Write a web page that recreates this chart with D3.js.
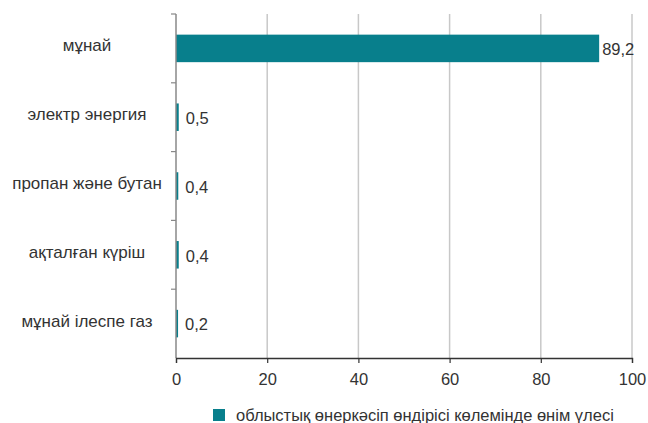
<!DOCTYPE html>
<html><head><meta charset="utf-8">
<script src="https://cdn.jsdelivr.net/npm/d3@7"></script>
<style>body{margin:0;background:#fff}svg{display:block}</style>
</head><body><svg id="c" width="648" height="423"></svg>
<script>
const categories = ["мұнай","электр энергия","пропан және бутан","ақталған күріш","мұнай ілеспе газ"];
const barValues = [92.8, 0.6, 0.5, 0.6, 0.45];
const valueLabels = ["89,2","0,5","0,4","0,4","0,2"];
const xTicks = [0,20,40,60,80,100];
const seriesName = "облыстық өнеркәсіп өндірісі көлемінде өнім үлесі";

const svg = d3.select("#c");
const m = {l:176, r:16, t:14, b:65};
const W = 648, H = 423;
const x = d3.scaleLinear().domain([0,100]).range([m.l, W-m.r]);
const y = d3.scaleBand().domain(categories).range([m.t, H-m.b]).paddingInner(0.6).paddingOuter(0.3);
const font = "Liberation Sans, Arial, sans-serif";

// gridlines
svg.append("g").selectAll("line").data(xTicks.slice(1)).join("line")
  .attr("x1", d=>x(d)).attr("x2", d=>x(d)).attr("y1", m.t).attr("y2", H-m.b)
  .attr("stroke", "#c8c8c8").attr("stroke-width", 1.5);

// bars
svg.append("g").selectAll("rect").data(categories).join("rect")
  .attr("x", x(0)).attr("y", d=>y(d))
  .attr("width", (d,i)=>x(barValues[i])-x(0)).attr("height", y.bandwidth())
  .attr("fill", "#087f8c");

// value labels
svg.append("g").selectAll("text").data(categories).join("text")
  .attr("x", (d,i)=>x(barValues[i])+ (i===0?3:7)).attr("y", d=>y(d)+y.bandwidth()/2+1)
  .attr("dy","0.35em").attr("font-family", font).attr("font-size", 16.5).attr("fill","#333")
  .text((d,i)=>valueLabels[i]);

// y axis
const step = (H-m.b-m.t)/categories.length;
const yAxis = svg.append("g");
yAxis.append("line").attr("x1", x(0)).attr("x2", x(0)).attr("y1", m.t).attr("y2", H-m.b)
  .attr("stroke","#888").attr("stroke-width",1.5);
yAxis.selectAll("line.t").data(d3.range(categories.length)).join("line").attr("class","t")
  .attr("x1", x(0)-5).attr("x2", x(0)).attr("y1", i=>m.t+i*step).attr("y2", i=>m.t+i*step)
  .attr("stroke","#888").attr("stroke-width",1.2);
yAxis.selectAll("text").data(categories).join("text")
  .attr("x", 87).attr("y", d=>y(d)+y.bandwidth()/2-3).attr("dy","0.35em")
  .attr("text-anchor","middle").attr("font-family", font).attr("font-size", 17).attr("fill","#333")
  .text(d=>d);

// x axis
const xAxis = svg.append("g").attr("transform", `translate(0,${H-m.b})`)
  .call(d3.axisBottom(x).tickValues(xTicks).tickSize(5).tickPadding(10).tickFormat(d3.format("d")));
xAxis.select(".domain").attr("stroke","#333").attr("stroke-width",1.3);
xAxis.selectAll(".tick line").attr("stroke","#333").attr("stroke-width",1.2);
xAxis.selectAll(".tick text").attr("font-family", font).attr("font-size", 16.5).attr("fill","#333");

// legend
const lg = svg.append("g").attr("transform","translate(213,409)");
lg.append("rect").attr("width",12).attr("height",12).attr("fill","#087f8c");
lg.append("text").attr("x",23).attr("y",6).attr("dy","0.35em").attr("font-family", font)
  .attr("font-size",16.5).attr("fill","#333").text(seriesName);
</script></body></html>
